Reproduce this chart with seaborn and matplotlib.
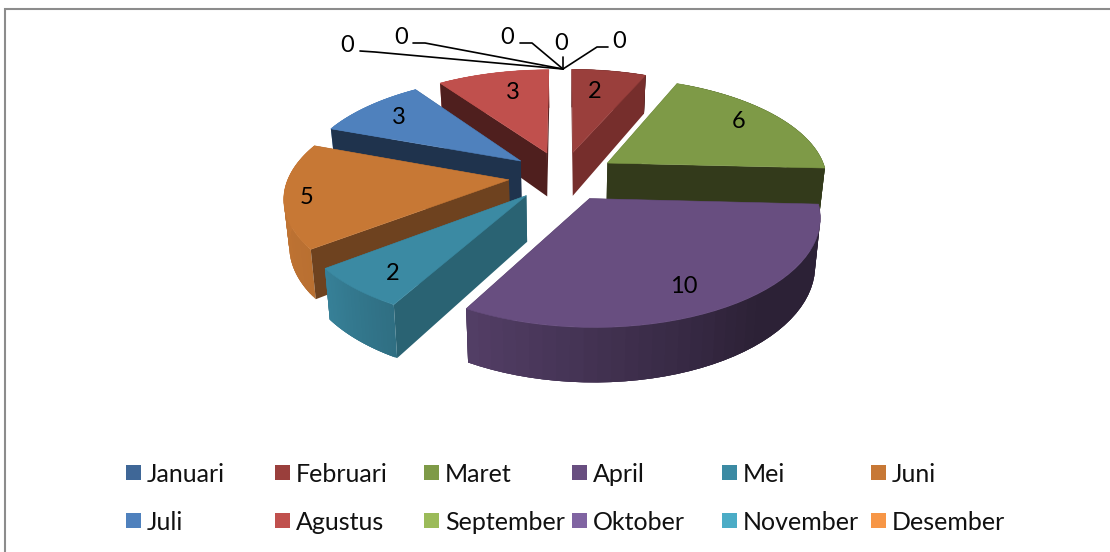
import numpy as np
import matplotlib
matplotlib.use("Agg")
import matplotlib.pyplot as plt
from matplotlib.patches import Polygon, Rectangle
import seaborn as sns

sns.set_theme(style="white")
plt.rcParams['font.family'] = ['Lato', 'DejaVu Sans']

months = ["Januari", "Februari", "Maret", "April", "Mei", "Juni",
          "Juli", "Agustus", "September", "Oktober", "November", "Desember"]
values = [0, 2, 6, 10, 2, 5, 3, 3, 0, 0, 0, 0]
top_hex = ["#3F6797", "#9A3F3C", "#7E9A47", "#684E80", "#3B8AA3", "#C77835",
           "#4F81BD", "#C0504D", "#9BBB59", "#8064A2", "#4BACC6", "#F79646"]
side_hex = ["#2A4565", "#762E2C", "#333A1B", "#2B2336", "#2A6373", "#6E421F",
            "#1F334D", "#4F1F1E", "#5F7A30", "#4F3D63", "#2F7488", "#A86020"]

# where the value labels sit (pixels), same order as the months with a slice
label_xy = {"Februari": (595, 90), "Maret": (739, 120), "April": (684, 285), "Mei": (393, 272),
            "Juni": (307, 196), "Juli": (399, 116), "Agustus": (513, 91)}
zero_xy = [(347, 44), (401, 36), (507, 36), (561, 42), (619, 40)]
zero_lines = [[(360, 51), (375, 52)], [(413, 43), (425, 43)], [(520, 43), (532, 43)],
              [(563, 57)], [(608, 47), (597, 47)]]
leader_end = (563, 69)

palette = sns.color_palette(top_hex)
side_palette = sns.color_palette(side_hex)

# perspective of the pie plane
x0, y0, sx, sy, persp = 562.5, 176, 220, 102, 0.15
explode = 0.245
depth = 45


def project(u, v, low=False):
    w = 1 / (1 - persp * v)
    x = sx * u * w
    y = y0 + sy * v * w
    if low:
        return x0 + x * 0.98, y + depth * w
    return x0 + x, y


def arc_shade(angle):
    return np.interp(angle, [0, 140, 209, 232, 290, 360], [0.42, 0.42, 0.8, 0.93, 1, 1])


fig = plt.figure(figsize=(11.1, 5.52), dpi=100)
ax = fig.add_axes([0, 0, 1, 1])
ax.set_xlim(0, 1110)
ax.set_ylim(552, 0)
ax.axis("off")

# frame: only the top and left edges fall inside the picture
ax.plot([5, 5, 1110], [552, 9, 9], color="#8C8C8C", lw=1.5, solid_joinstyle="miter")

# slice angles, clockwise from twelve o'clock
total = sum(values)
slices = []
start = 0
for i, val in enumerate(values):
    sweep = val / total * 360
    if val > 0:
        slices.append((i, start, start + sweep))
    start += sweep


def bisector(a0, a1):
    mid = np.radians((a0 + a1) / 2)
    return np.sin(mid), -np.cos(mid)


# paint from the back of the pie to the front
slices.sort(key=lambda s: bisector(s[1], s[2])[1])

for i, a0, a1 in slices:
    du, dv = bisector(a0, a1)
    cu, cv = explode * du, explode * dv
    angles = np.linspace(a0, a1, 40)
    us = cu + np.sin(np.radians(angles))
    vs = cv - np.cos(np.radians(angles))
    top_arc = [project(u, v) for u, v in zip(us, vs)]
    low_arc = [project(u, v, True) for u, v in zip(us, vs)]
    apex = project(cu, cv)
    apex_low = project(cu, cv, True)

    walls = []
    # outer wall as strips, each one reaching under the next so no seams show
    strips = []
    for k in range(len(angles) - 1):
        shade = arc_shade((angles[k] + angles[k + 1]) / 2)
        col = tuple(c * shade for c in palette[i])
        end = min(k + 3, len(angles) - 1)
        strips.append(([top_arc[k], *top_arc[k + 1:end + 1], *low_arc[k:end + 1][::-1]], col))
    walls.append((vs.mean(), strips))
    walls.append(((cv + vs[0]) / 2, [([apex, top_arc[0], low_arc[0], apex_low], side_palette[i])]))
    walls.append(((cv + vs[-1]) / 2, [([apex, top_arc[-1], low_arc[-1], apex_low], side_palette[i])]))
    walls.sort(key=lambda w: w[0])
    for _, quads in walls:
        for pts, col in quads:
            ax.add_patch(Polygon(pts, closed=True, fc=col, ec="none"))
    ax.add_patch(Polygon([apex] + top_arc, closed=True, fc=palette[i], ec=palette[i], lw=0.4))

for name, (x, y) in label_xy.items():
    ax.text(x, y + 1.5, str(values[months.index(name)]), fontsize=17, color="black", ha="center", va="center")

for (x, y), pts in zip(zero_xy, zero_lines):
    ax.text(x, y + 1.5, "0", fontsize=17, color="black", ha="center", va="center")
    line = pts + [leader_end]
    ax.plot([p[0] for p in line], [p[1] for p in line], color="black", lw=1.2)

# legend, laid out the way the original wraps it
legend_x = [126, 275, 424, 572, 722, 871]
legend_y = [473, 521]
for i, name in enumerate(months):
    lx = legend_x[i % 6]
    ly = legend_y[i // 6]
    ax.add_patch(Rectangle((lx, ly - 8), 15, 15, fc=palette[i], ec="none"))
    ax.text(lx + 21, ly + 1, name, fontsize=18, color="#111111", ha="left", va="center")

fig.savefig("out.png", dpi=100)
